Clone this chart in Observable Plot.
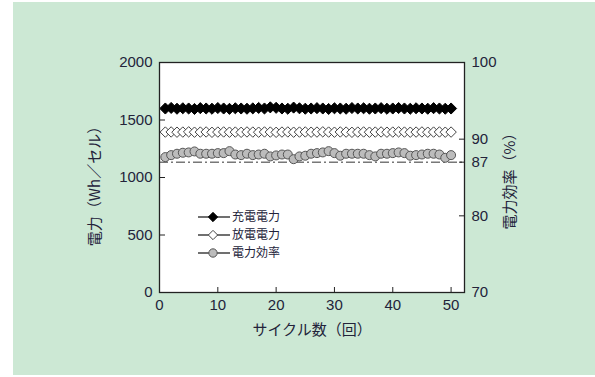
<!DOCTYPE html>
<html><head><meta charset="utf-8">
<script src="https://cdn.jsdelivr.net/npm/d3@7"></script>
<script src="https://cdn.jsdelivr.net/npm/@observablehq/plot@0.6"></script>
<style>
html,body{margin:0;padding:0;background:#fff;}
#wrap{position:relative;width:595px;height:377px;overflow:hidden;}
#panel{position:absolute;left:13px;top:2px;width:582px;height:373px;background:#cce8d4;}
#chart{position:absolute;left:0;top:0;}
#legend{position:absolute;left:0;top:0;}
</style></head><body>
<div id="wrap"><div id="panel"></div><div id="chart"></div><div id="legend"></div></div>
<script>
// ---- data ----
const cycles = [1,2,3,4,5,6,7,8,9,10,11,12,13,14,15,16,17,18,19,20,21,22,23,24,25,26,27,28,29,30,31,32,33,34,35,36,37,38,39,40,41,42,43,44,45,46,47,48,49,50];
const chargePower = [1600,1605,1598,1602,1600,1596,1603,1600,1598,1604,1600,1597,1602,1600,1598,1601,1605,1600,1610,1606,1600,1598,1608,1602,1598,1600,1603,1600,1596,1602,1600,1598,1604,1600,1602,1598,1600,1603,1598,1600,1604,1600,1598,1602,1600,1598,1603,1600,1598,1600];
const dischargePower = [1395,1396,1394,1395,1397,1394,1395,1396,1393,1395,1396,1394,1395,1393,1396,1395,1394,1396,1395,1393,1395,1396,1394,1395,1396,1394,1395,1397,1395,1394,1396,1395,1393,1395,1396,1394,1395,1396,1394,1395,1397,1395,1394,1395,1396,1394,1395,1396,1394,1395];
const efficiency = [87.66,87.92,88.10,88.23,88.27,88.40,88.10,88.10,88.10,88.18,88.18,88.44,88.00,87.92,88.10,87.92,88.00,88.10,87.75,87.88,88.00,88.00,87.39,87.75,87.84,88.10,88.18,88.27,88.44,88.18,87.84,88.10,88.10,88.10,88.10,87.92,87.75,88.10,88.10,88.18,88.27,88.18,87.84,87.92,88.00,88.10,88.10,88.00,87.57,87.92];
const leftTicks = [0,500,1000,1500,2000];
const rightTicks = [70,80,87,90,100];
const xTicks = [0,10,20,30,40,50];
const refLine = [87];
const seriesNames = ["充電電力","放電電力","電力効率"];
const xTitle = "サイクル数（回）";
const yLeftTitle = "電力（Wh／セル）";
const yRightTitle = "電力効率（%）";

// right axis (70–100 %) mapped onto left scale (0–2000 Wh)
const pctToLeft = p => (p - 70) / 30 * 2000;
const leftToPct = v => 70 + v / 2000 * 30;

const charge = cycles.map((c,i)=>({c, v: chargePower[i]}));
const discharge = cycles.map((c,i)=>({c, v: dischargePower[i]}));
const eff = cycles.map((c,i)=>({c, v: pctToLeft(efficiency[i])}));

const FONT = "'Liberation Sans', Arial, 'Noto Sans CJK JP', sans-serif";
const CJK = "'Noto Sans CJK JP', sans-serif";
const TXT = "#23233a";

const chart = Plot.plot({
  width: 595, height: 377,
  marginLeft: 159, marginRight: 131, marginTop: 62, marginBottom: 85,
  style: {background: "transparent", fontFamily: FONT, fontSize: "15px", color: TXT},
  x: {domain: [0, 52.3]},
  y: {domain: [0, 2000]},
  marks: [
    Plot.frame({fill: "white", stroke: null}),
    Plot.ruleY(refLine.map(pctToLeft), {stroke: "#333", strokeWidth: 1, strokeDasharray: "9,3,2,3"}),
    Plot.dot(eff, {x: "c", y: "v", symbol: "circle", r: 4.5, fill: "#bcbcbc", stroke: "#555", strokeWidth: 1}),
    Plot.dot(discharge, {x: "c", y: "v", symbol: "diamond2", r: 4.7, fill: "white", stroke: "#444", strokeWidth: 1}),
    Plot.dot(charge, {x: "c", y: "v", symbol: "diamond2", r: 5, fill: "black", stroke: "black", strokeWidth: 1}),
    // inward tick marks
    Plot.axisY(leftTicks, {anchor: "left", tickSize: -6, text: null, stroke: "#222", label: null}),
    Plot.axisY(rightTicks.map(pctToLeft), {anchor: "right", tickSize: -6, text: null, stroke: "#222", label: null}),
    Plot.axisX(xTicks, {anchor: "bottom", tickSize: -5, text: null, stroke: "#222", label: null}),
    // labels
    Plot.axisY(leftTicks, {anchor: "left", tickSize: 0, tickPadding: 7, fontSize: 15, fill: TXT, label: null, tickFormat: d => String(d)}),
    Plot.axisY(rightTicks.map(pctToLeft), {anchor: "right", tickSize: 0, tickPadding: 7, fontSize: 15, fill: TXT, label: null, tickFormat: d => String(Math.round(leftToPct(d)))}),
    Plot.axisX(xTicks, {anchor: "bottom", tickSize: 0, tickPadding: 7, fontSize: 15, fill: TXT, label: null, tickFormat: d => String(d)}),
    Plot.frame({stroke: "#222", strokeWidth: 1.3}),
    Plot.text([xTitle], {frameAnchor: "bottom", dy: 32, fontSize: 15, fontFamily: CJK, fill: TXT, lineAnchor: "top", textAnchor: "middle"}),
    Plot.text([yLeftTitle], {frameAnchor: "left", dx: -64, dy: 5, rotate: -90, fontSize: 15, fontFamily: CJK, fill: TXT, textAnchor: "middle"}),
    Plot.text([yRightTitle], {frameAnchor: "right", dx: 46, dy: 0, rotate: -90, fontSize: 15, fontFamily: CJK, fill: TXT, textAnchor: "middle"})
  ]
});
document.getElementById("chart").appendChild(chart);

// legend
const legendRows = [
  {name: seriesNames[0], symbol: d3.symbolDiamond2, fill: "black", stroke: "black"},
  {name: seriesNames[1], symbol: d3.symbolDiamond2, fill: "white", stroke: "#444"},
  {name: seriesNames[2], symbol: d3.symbolCircle, fill: "#bcbcbc", stroke: "#555"}
];
const lg = d3.select("#legend").append("svg").attr("width", 595).attr("height", 377);
legendRows.forEach((r, i) => {
  const y = 217 + i * 18;
  lg.append("line").attr("x1", 198).attr("x2", 230).attr("y1", y).attr("y2", y).attr("stroke", "#111").attr("stroke-width", 1.2);
  lg.append("path").attr("d", d3.symbol(r.symbol, 55)()).attr("transform", `translate(213,${y})`).attr("fill", r.fill).attr("stroke", r.stroke);
  lg.append("text").attr("x", 232).attr("y", y).attr("dy", "0.35em").attr("font-size", 12).attr("font-family", CJK).attr("fill", TXT).text(r.name);
});
</script>
</body></html>
